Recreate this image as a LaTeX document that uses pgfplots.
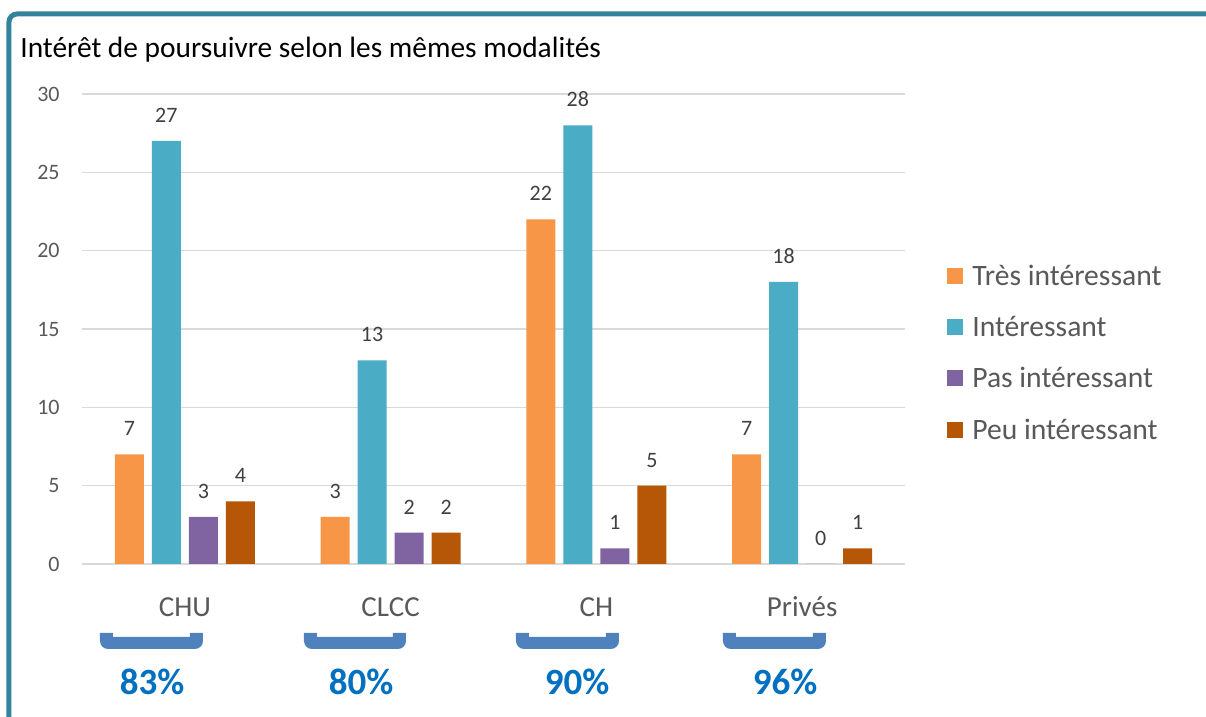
\documentclass[border=0pt]{standalone}
\usepackage{pgfplots}
\pgfplotsset{compat=1.18}
\usepackage{fontspec}
\setmainfont{Carlito}
\definecolor{cOrange}{HTML}{F79646}
\definecolor{cTeal}{HTML}{4BACC6}
\definecolor{cPurple}{HTML}{8064A2}
\definecolor{cBrown}{HTML}{B65708}
\definecolor{frameC}{HTML}{31849B}
\definecolor{gridC}{HTML}{D9D9D9}
\definecolor{tickC}{HTML}{595959}
\definecolor{labC}{HTML}{404040}
\definecolor{brC}{HTML}{4F81BD}
\definecolor{pctC}{HTML}{0070C0}
\pgfplotsset{sq/.style={legend image code/.code={\fill[##1] (0bp,-4.25bp) rectangle (8bp,3.75bp);}}}
\begin{document}
\begin{tikzpicture}
\useasboundingbox (0,0) rectangle (603bp,358.5bp);
\fill[white] (0,0) rectangle (603bp,358.5bp);
\begin{scope}[x=0.5bp,y=-0.5bp,shift={(0bp,358.5bp)}]
\draw[line width=2.5bp,frameC,rounded corners=4bp] (9,760) -- (9,14) -- (1240,14);
\node[anchor=base west,inner sep=0pt,font=\fontsize{14.7bp}{17bp}\selectfont] at (20,58) {Intérêt de poursuivre selon les mêmes modalités};
\foreach \L/\R/\P/\pc in {100/203/152/83\%,304/406/361/80\%,516/619/577/90\%,723/826/785/96\%}{
  \fill[brC] (\L,633) [rounded corners=4bp]-- (\L,649) -- (\R,649) [sharp corners]-- (\R,633) -- (\R-13,633) -- (\R-13,637) -- (\L+13,637) -- (\L+13,633) -- cycle;
  \node[anchor=base,inner sep=0pt,text=pctC,font=\fontsize{18.5bp}{22bp}\selectfont\bfseries] at (\P,695) {\pc};
}
\end{scope}
\begin{axis}[
  at={(41bp,76.5bp)}, anchor=south west, scale only axis,
  width=411.5bp, height=235bp,
  xmin=-0.5, xmax=3.5, ymin=0, ymax=30,
  ybar=4bp, bar width=14.5bp,
  clip=false,
  axis line style={draw=none},
  tick style={draw=none},
  ymajorgrids, grid style={gridC, line width=0.8bp},
  ytick={0,5,10,15,20,25,30},
  xtick={0,1,2,3}, xticklabels={CHU,CLCC,CH,Privés},
  /pgf/number format/assume math mode=true,
  yticklabel style={font=\fontsize{11bp}{13bp}\selectfont, text=tickC, anchor=east, inner sep=0pt, xshift=-11bp},
  xticklabel style={font=\fontsize{14.5bp}{17bp}\selectfont, text=tickC, anchor=base, inner sep=0pt, yshift=-22bp},
  nodes near coords,
  nodes near coords style={font=\fontsize{11bp}{13bp}\selectfont, text=labC, inner sep=0pt, anchor=south, yshift=9bp},
  legend style={at={(1.051,0.636)}, anchor=north west, draw=none, fill=none, inner sep=0pt,
    font=\fontsize{14.8bp}{17bp}\selectfont, text=tickC,
    row sep=15.6bp,
    nodes={inner sep=0pt, text height=10bp, text depth=0pt},
    /tikz/every odd column/.append style={column sep=4.5bp}},
  legend cell align=left,
]
\addplot[fill=cOrange, draw=none, sq] coordinates {(0,7) (1,3) (2,22) (3,7)};
\addplot[fill=cTeal, draw=none, sq] coordinates {(0,27) (1,13) (2,28) (3,18)};
\addplot[fill=cPurple, draw=none, sq] coordinates {(0,3) (1,2) (2,1) (3,0)};
\addplot[fill=cBrown, draw=none, sq] coordinates {(0,4) (1,2) (2,5) (3,1)};
\legend{Très intéressant, Intéressant, Pas intéressant, Peu intéressant}
\end{axis}
\end{tikzpicture}
\end{document}
